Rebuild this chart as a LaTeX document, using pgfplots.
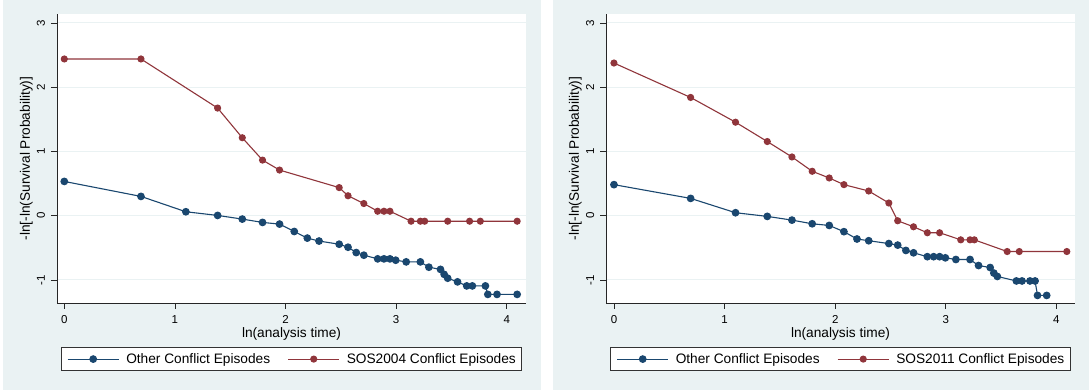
\documentclass[border=0pt]{standalone}
\usepackage{pgfplots}
\pgfplotsset{compat=1.18}
\usepackage{fontspec}
\setmainfont{Liberation Sans}
\definecolor{bgc}{RGB}{234,242,243}
\definecolor{navy}{RGB}{26,71,111}
\definecolor{maroon}{RGB}{144,53,59}
\pgfplotsset{
  common/.style={
    scale only axis, width=469pt, height=289pt,
    anchor=south west,
    ymin=-1.358, ymax=3.14,
    axis lines=left,
    x axis line style={-, black!85, line width=0.8pt},
    y axis line style={-, black!85, line width=0.8pt},
    axis background/.style={fill=white},
    xtick={0,1,2,3,4}, xticklabels={0,1,2,3,4},
    ytick={-1,0,1,2,3}, yticklabels={-1,0,1,2,3},
    tick align=outside, major tick length=6pt,
    tick style={black!85, line width=0.8pt},
    ymajorgrids, major grid style={bgc, line width=1pt},
    ticklabel style={font=\fontsize{11.5}{13}\selectfont},
    xticklabel style={anchor=base, inner sep=0pt, yshift=-14.3pt},
    yticklabel style={rotate=90, anchor=base, inner sep=0pt, yshift=6pt},
    every axis x label/.style={at={(axis description cs:0.5,-0.1194)}, anchor=base, font=\fontsize{13.7}{16}\selectfont},
    every axis y label/.style={at={(axis description cs:-0.0576,0.5)}, rotate=90, anchor=base, font=\fontsize{13.7}{16}\selectfont},
    xlabel={ln(analysis time)},
    ylabel={-ln[-ln(Survival Probability)]},
    legend columns=2,
    legend cell align=left,
    legend style={at={(axis description cs:0.5,-0.1522)}, anchor=north,
      draw=black!80, line width=0.8pt, fill=white, inner sep=6pt,
      font=\fontsize{13.7}{16}\selectfont,
      nodes={inner sep=0pt},
      /tikz/every odd column/.append style={column sep=7pt},
      /tikz/every even column/.append style={column sep=17.5pt}},
    legend image code/.code={\draw[mark repeat=2,mark phase=2,#1] plot coordinates {(0pt,0pt) (25.5pt,0pt) (51pt,0pt)};},
  },
  blues/.style={navy, line width=1.1pt, mark=*, mark size=3.3pt, mark options={solid, fill=navy, draw=navy}},
  reds/.style={maroon, line width=1.1pt, mark=*, mark size=3pt, mark options={solid, fill=maroon, draw=maroon}},
}
\begin{document}
\begin{tikzpicture}[x=1pt,y=1pt]
\fill[white] (0,0) rectangle (1089,390);
\fill[bgc] (3,0) rectangle (541,390);
\fill[bgc] (553,0) rectangle (1089,390);
\begin{axis}[common, at={(57pt,87pt)}, xmin=-0.066, xmax=4.174]
\addplot[blues] coordinates {
(0,0.534) (0.693,0.301) (1.099,0.062) (1.386,0.005) (1.609,-0.052) (1.792,-0.104)
(1.946,-0.130) (2.079,-0.245) (2.197,-0.348) (2.303,-0.394) (2.485,-0.443) (2.565,-0.490)
(2.639,-0.573) (2.708,-0.614) (2.833,-0.671) (2.890,-0.671) (2.944,-0.671) (2.996,-0.692)
(3.091,-0.718) (3.219,-0.718) (3.296,-0.801) (3.401,-0.835) (3.434,-0.912) (3.466,-0.972)
(3.555,-1.029) (3.638,-1.092) (3.689,-1.092) (3.807,-1.092) (3.829,-1.224) (3.912,-1.224)
(4.094,-1.224)};
\addlegendentry{Other Conflict Episodes}
\addplot[reds] coordinates {
(0,2.44) (0.693,2.44) (1.386,1.676) (1.609,1.214) (1.792,0.866) (1.946,0.711)
(2.485,0.438) (2.565,0.311) (2.708,0.190) (2.833,0.070) (2.890,0.070) (2.944,0.070)
(3.135,-0.085) (3.219,-0.085) (3.258,-0.085) (3.466,-0.085) (3.664,-0.085) (3.761,-0.085)
(4.094,-0.085)};
\addlegendentry{SOS2004 Conflict Episodes}
\end{axis}
\begin{axis}[common, at={(606pt,87pt)}, xmin=-0.072, xmax=4.168]
\addplot[blues] coordinates {
(0,0.484) (0.693,0.270) (1.099,0.047) (1.386,-0.010) (1.609,-0.068) (1.792,-0.125)
(1.946,-0.151) (2.079,-0.248) (2.197,-0.362) (2.303,-0.389) (2.485,-0.433) (2.565,-0.457)
(2.639,-0.540) (2.708,-0.577) (2.833,-0.637) (2.890,-0.637) (2.944,-0.637) (2.996,-0.655)
(3.091,-0.681) (3.219,-0.681) (3.296,-0.775) (3.401,-0.806) (3.434,-0.892) (3.466,-0.945)
(3.638,-1.015) (3.689,-1.015) (3.761,-1.015) (3.807,-1.015) (3.829,-1.240) (3.912,-1.240)};
\addlegendentry{Other Conflict Episodes}
\addplot[reds] coordinates {
(0,2.377) (0.693,1.841) (1.099,1.456) (1.386,1.155) (1.609,0.915) (1.792,0.692)
(1.946,0.588) (2.079,0.484) (2.303,0.385) (2.485,0.198) (2.565,-0.078) (2.708,-0.172)
(2.833,-0.265) (2.944,-0.265) (3.135,-0.375) (3.219,-0.375) (3.258,-0.375) (3.555,-0.557)
(3.664,-0.557) (4.094,-0.557)};
\addlegendentry{SOS2011 Conflict Episodes}
\end{axis}
\end{tikzpicture}
\end{document}
